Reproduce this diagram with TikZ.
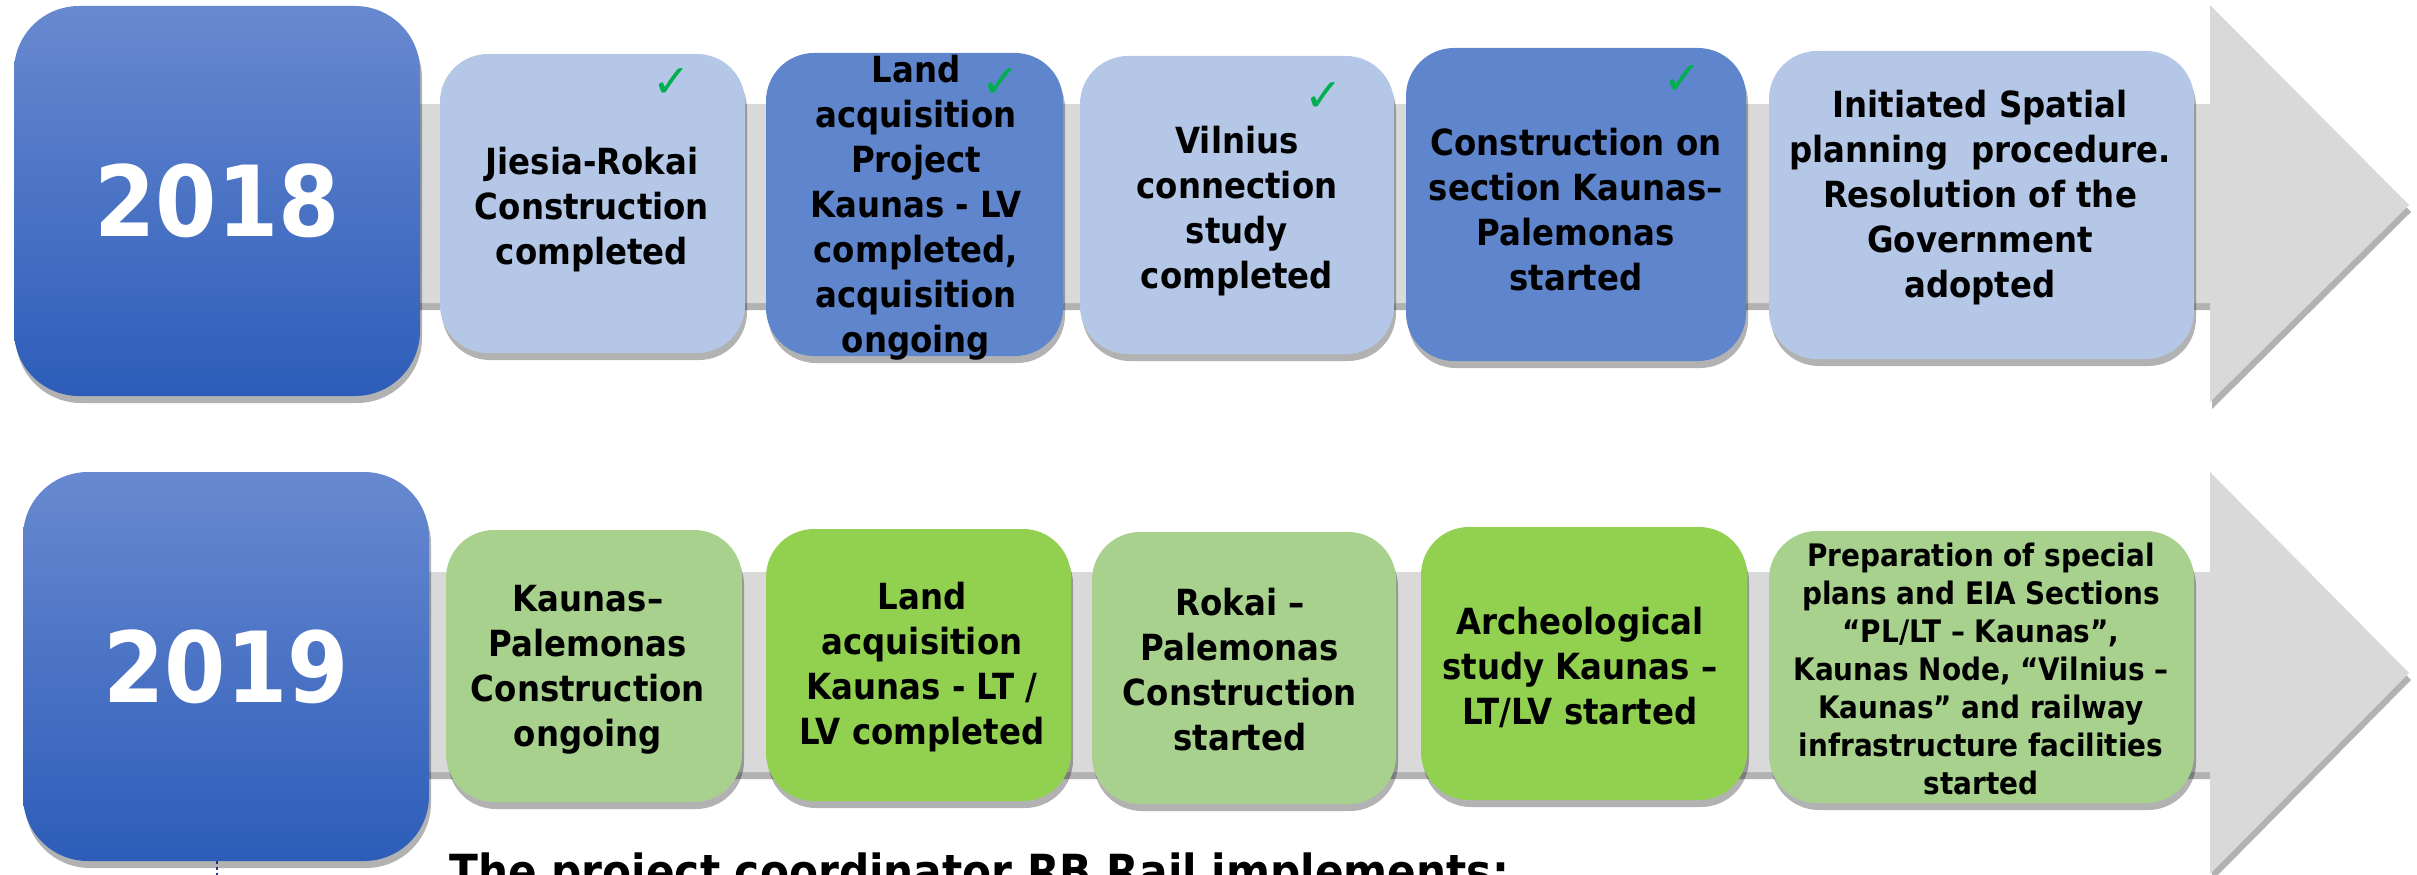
\documentclass[tikz,border=0pt]{standalone}
\usepackage{fontspec}
\setmainfont{DejaVu Sans}[FakeStretch=0.9]
\newfontfamily\symfont{DejaVu Sans}
\usetikzlibrary{shadows}
\definecolor{lblue}{RGB}{180,199,231}
\definecolor{dblue}{RGB}{95,133,204}
\definecolor{lgreen}{RGB}{169,209,142}
\definecolor{bgreen}{RGB}{146,208,80}
\definecolor{bandgray}{RGB}{217,217,217}
\definecolor{ytop}{RGB}{104,137,208}
\definecolor{ybot}{RGB}{45,93,185}
\definecolor{okgreen}{RGB}{0,176,80}
\definecolor{navy}{RGB}{31,56,120}
\tikzset{
  shad/.style={drop shadow={shadow xshift=2pt, shadow yshift=-7pt, opacity=0.3, fill=black}},
  stepbox/.style={shad, rounded corners=48pt, draw=none, inner sep=0pt},
  yearbox/.style={shad, rounded corners=65pt, draw=none, inner sep=0pt,
     top color=ytop, bottom color=ybot, text=white,
     font=\fontsize{98}{110}\selectfont\bfseries},
  txt/.style={align=center, inner sep=0pt, text=black,
     font=\fontsize{36}{45}\selectfont\bfseries},
  smalltxt/.style={align=center, inner sep=0pt, text=black,
     font=\fontsize{31}{38}\selectfont\bfseries},
  chk/.style={inner sep=0pt, text=okgreen, font=\symfont\fontsize{46}{46}\selectfont},
  band/.style={fill=bandgray, shad}
}
\begin{document}
\begin{tikzpicture}[x=1pt,y=-1pt]
\useasboundingbox (0,0) rectangle (2417,875);
\clip (0,0) rectangle (2417,875);
% arrows (bands)
\fill[band] (300,104) -- (2210,104) -- (2210,5) -- (2409,205) -- (2210,402) -- (2210,303) -- (300,303) -- cycle;
\fill[band] (300,572) -- (2210,572) -- (2210,472) -- (2409,673) -- (2210,874) -- (2210,772) -- (300,772) -- cycle;
% year boxes
\node[yearbox, minimum width=406pt, minimum height=390pt] (y18) at (217,201) {2018};
\node[yearbox, minimum width=406pt, minimum height=389pt] (y19) at (226,666.5) {2019};
% row 1 boxes
\node[stepbox, fill=lblue, minimum width=305pt, minimum height=299pt] (a1) at (592.5,203.5) {};
\node[stepbox, fill=dblue, minimum width=297pt, minimum height=303pt] (a2) at (914.5,204.5) {};
\node[stepbox, fill=lblue, minimum width=314pt, minimum height=298pt] (a3) at (1237,205) {};
\node[stepbox, fill=dblue, minimum width=340pt, minimum height=313pt] (a4) at (1576,204.5) {};
\node[stepbox, fill=lblue, minimum width=425pt, minimum height=308pt] (a5) at (1981.5,205) {};
% row 2 boxes
\node[stepbox, fill=lgreen, minimum width=296pt, minimum height=272pt] (b1) at (594,666) {};
\node[stepbox, fill=bgreen, minimum width=305pt, minimum height=272pt] (b2) at (918.5,665) {};
\node[stepbox, fill=lgreen, minimum width=304pt, minimum height=272pt] (b3) at (1244,668) {};
\node[stepbox, fill=bgreen, minimum width=326pt, minimum height=273pt] (b4) at (1584,663.5) {};
\node[stepbox, fill=lgreen, minimum width=425pt, minimum height=272pt] (b5) at (1981.5,667) {};
% row 1 texts
\node[txt] (a1t) at (592,210) {Jiesia-Rokai\\Construction\\completed};
\node[txt] (a2t) at (916,208) {Land\\acquisition\\Project\\Kaunas - LV\\completed,\\acquisition\\ongoing};
\node[txt] (a3t) at (1237,211) {Vilnius\\connection\\study\\completed};
\node[txt] (a4t) at (1576,210) {Construction on\\section Kaunas–\\Palemonas\\started};
\node[txt] (a5t) at (1980,198) {Initiated Spatial\\planning\ \ procedure.\\Resolution of the\\Government\\adopted};
% check marks
\node[chk] (a1c) at (672,83) {✓};
\node[chk] (a2c) at (1001,83) {✓};
\node[chk] (a3c) at (1324,97) {✓};
\node[chk] (a4c) at (1683,80) {✓};
% row 2 texts
\node[txt] (b1t) at (588,670) {Kaunas–\\Palemonas\\Construction\\ongoing};
\node[txt] (b2t) at (922,667) {Land\\acquisition\\Kaunas - LT /\\LV completed};
\node[txt] (b3t) at (1240,670) {Rokai –\\Palemonas\\Construction\\started};
\node[txt] (b4t) at (1580,667) {Archeological\\study Kaunas –\\LT/LV started};
\node[smalltxt] (b5t) at (1981,669) {Preparation of special\\plans and EIA Sections\\“PL/LT – Kaunas”,\\Kaunas Node, “Vilnius –\\Kaunas” and railway\\infrastructure facilities\\started};
% bottom heading (cut off by the frame, as in the reference)
\node[anchor=base west, inner sep=0pt, font=\fontsize{47}{56}\selectfont\bfseries] (head) at (449,888) {The project coordinator RB Rail implements:};
% small dashed mark
\coordinate (m1) at (217,861);
\coordinate (m2) at (217,875);
\draw[navy, line width=2pt, dashed] (m1) -- (m2);
\end{tikzpicture}
\end{document}
